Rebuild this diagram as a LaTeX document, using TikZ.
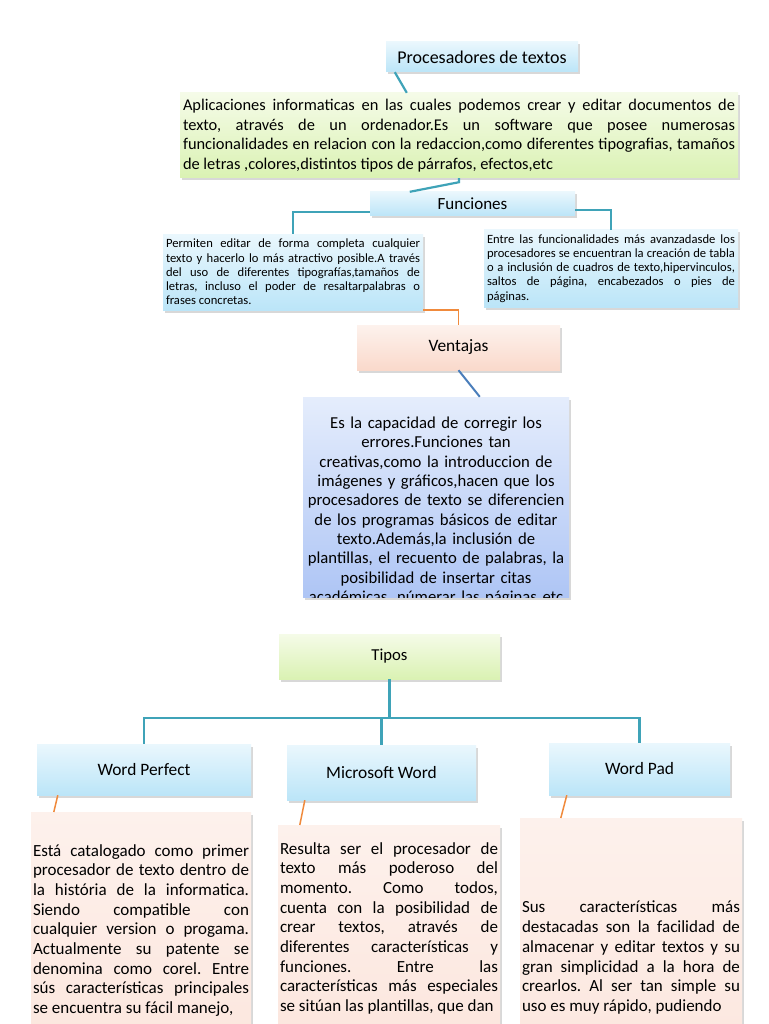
\documentclass[tikz,border=0pt]{standalone}
\usepackage{fontspec}
\setmainfont{Carlito}
\usetikzlibrary{shapes, arrows, positioning, calc, shadows}
\frenchspacing

\definecolor{linkteal}{HTML}{3FA3B8}
\definecolor{linkorange}{HTML}{F08A3C}
\definecolor{linkblue}{HTML}{4A7EBB}
\definecolor{bluetop}{HTML}{EAF7FD}
\definecolor{bluebot}{HTML}{BBE5F8}
\definecolor{greentop}{HTML}{F5FBE8}
\definecolor{greenbot}{HTML}{DAF2B3}
\definecolor{peachtop}{HTML}{FDF2ED}
\definecolor{peachbot}{HTML}{FAD9CB}
\definecolor{notetop}{HTML}{FDF1EC}
\definecolor{notebot}{HTML}{FCE5DC}
\definecolor{venttop}{HTML}{E5EDFC}
\definecolor{ventbot}{HTML}{AEC5F5}

\begin{document}
\begin{tikzpicture}[x=1pt, y=-1pt,
    every node/.style={font=\fontsize{17.4}{20}\selectfont\frenchspacing, text=black},
    shadowed/.style={drop shadow={shadow xshift=2pt, shadow yshift=-2.5pt, opacity=0.3}},
    bluebox/.style={rectangle, shadowed, top color=bluetop, bottom color=bluebot, align=center},
    greenbox/.style={rectangle, shadowed, top color=greentop, bottom color=greenbot, align=center},
    peachbox/.style={rectangle, shadowed, top color=peachtop, bottom color=peachbot, align=center},
    notebox/.style={rectangle, shadowed, top color=notetop, bottom color=notebot, anchor=north, inner xsep=2pt, text width=217pt, align=justify, font=\fontsize{17}{19.7}\selectfont\frenchspacing},
    smallbox/.style={bluebox, inner xsep=3pt, text width=254pt, align=justify, font=\fontsize{12.6}{14.2}\selectfont\frenchspacing},
    link/.style={draw=linkteal, line width=2.2pt},
    orangelink/.style={draw=linkorange, line width=1.5pt},
    bluelink/.style={draw=linkblue, line width=2pt}]

\path[use as bounding box, fill=white] (0,0) rectangle (768,1024);

% Procesadores de textos
\node[bluebox, minimum width=192pt, minimum height=30pt, font=\fontsize{18}{20}\selectfont] (proc) at (482,57) {Procesadores de textos};
\node[greenbox, minimum height=85pt, inner xsep=3pt, text width=552pt, align=justify, font=\fontsize{16.4}{19.5}\selectfont\frenchspacing] (desc) at (459,135.5) {Aplicaciones informaticas en las cuales podemos crear y editar documentos de\linebreak texto, através de un ordenador.Es un software que posee numerosas\linebreak funcionalidades en relacion con la redaccion,como diferentes tipografias, tamaños\linebreak de letras ,colores,distintos tipos de párrafos, efectos,etc};

% Funciones
\node[bluebox, minimum width=205pt, minimum height=24pt, font=\fontsize{17}{20}\selectfont] (func) at (472.5,204) {Funciones};
\node[smallbox, minimum height=76pt] (funcL) at (293,272) {Permiten editar de forma completa cualquier\linebreak texto y hacerlo lo más atractivo posible.A través\linebreak del uso de diferentes tipografías,tamaños de\linebreak letras, incluso el poder de resaltarpalabras o\linebreak frases concretas.};
\node[smallbox, minimum height=77pt, text width=248pt] (funcR) at (611,268.5) {Entre las funcionalidades más avanzadasde los\linebreak procesadores se encuentran la creación de tabla\linebreak o a inclusión de cuadros de texto,hipervinculos,\linebreak saltos de página, encabezados o pies de\linebreak páginas.};

% Ventajas
\node[peachbox, minimum width=203pt, minimum height=45pt] (vent) at (458.5,347.5) {Ventajas};
\node[rectangle, shadowed, top color=venttop, bottom color=ventbot, minimum width=266pt, minimum height=200pt,
    path picture={\node[anchor=north, inner sep=0pt, text width=264pt, align=center, font=\fontsize{16.7}{19.35}\selectfont\frenchspacing] (venttext) at ([yshift=-14pt]path picture bounding box.north) {Es la capacidad de corregir los\\errores.Funciones tan\\creativas,como la introduccion de\\imágenes y gráficos,hacen que los\\procesadores de texto se diferencien\\de los programas básicos de editar\\texto.Además,la inclusión de\\plantillas, el recuento de palabras, la\\posibilidad de insertar citas\\académicas, númerar las páginas etc};}] (ventT) at (436,497) {};

% Tipos
\node[greenbox, minimum width=221pt, minimum height=45pt, font=\fontsize{16.7}{20}\selectfont] (tipos) at (389.5,656.5) {Tipos};
\node[bluebox, minimum width=214pt, minimum height=51pt] (wp) at (144,769.5) {Word Perfect};
\node[bluebox, minimum width=189pt, minimum height=55pt] (ms) at (381.5,772.5) {Microsoft Word};
\node[bluebox, minimum width=181pt, minimum height=52pt] (pad) at (639.5,769) {Word Pad};

\node[notebox, text width=216pt, inner ysep=32pt] (wpT) at (141,812) {Está catalogado como primer\linebreak procesador de texto dentro de\linebreak la história de la informatica.\linebreak Siendo compatible con\linebreak cualquier version o progama.\linebreak Actualmente su patente se\linebreak denomina como corel. Entre\linebreak sús características principales\linebreak se encuentra su fácil manejo,\par\rule{0pt}{30pt}};
\node[notebox, text width=218pt, inner ysep=17pt] (msT) at (389,825) {Resulta ser el procesador de\linebreak texto más poderoso del\linebreak momento. Como todos,\linebreak cuenta con la posibilidad de\linebreak crear textos, através de\linebreak diferentes características y\linebreak funciones. Entre las\linebreak características más especiales\linebreak se sitúan las plantillas, que dan\par\rule{0pt}{30pt}};
\node[notebox, text width=218pt, inner ysep=83pt] (padT) at (631,818) {Sus características más\linebreak destacadas son la facilidad de\linebreak almacenar y editar textos y su\linebreak gran simplicidad a la hora de\linebreak crearlos. Al ser tan simple su\linebreak uso es muy rápido, pudiendo};

% Paths
\draw[link] ($(proc.south west)+(9,0)$) -- ($(desc.north west)+(227,0)$);
\draw[link] (desc.south) -- ++(0,4) -- ($(func.north west)+(40,0)$);
\draw[link] ([yshift=-8pt]func.west) -| (funcL.north);
\draw[link] ([yshift=-6pt]func.east) -| (funcR.north);
\draw[orangelink] (funcL.south east) -| (vent.north);
\draw[bluelink] (vent.south) -- ($(ventT.north west)+(177,0)$);
\draw[link] (tipos.south) -- ++(0,39) coordinate (bus);
\draw[link] (wp.north) |- (bus) -| (pad.north);
\draw[link] (bus) -| (ms.north);
\draw[orangelink] ($(wp.south west)+(21,0)$) -- ($(wpT.north west)+(23,0)$);
\draw[orangelink] ($(ms.south west)+(18,0)$) -- ($(msT.north west)+(22,0)$);
\draw[orangelink] ($(pad.south west)+(18,0)$) -- ($(padT.north west)+(41,0)$);

\end{tikzpicture}
\end{document}
